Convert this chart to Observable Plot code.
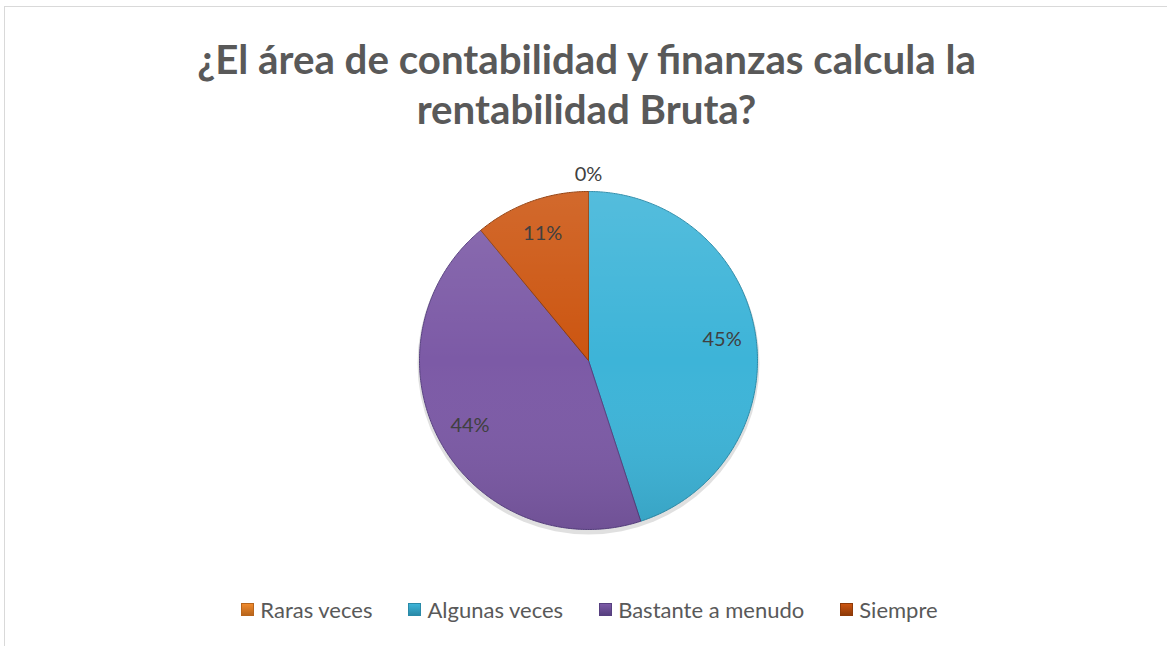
<!DOCTYPE html>
<html><head><meta charset="utf-8">
<script src="https://cdn.jsdelivr.net/npm/d3@7"></script>
<script src="https://cdn.jsdelivr.net/npm/@observablehq/plot@0.6"></script>
<style>
html,body{margin:0;padding:0;background:#fff;}
#wrap{position:relative;width:1167px;height:646px;overflow:hidden;font-family:Lato,"Open Sans",sans-serif;}
#frame{position:absolute;left:4px;top:6px;width:1300px;height:800px;border:1px solid #d9d9d9;}
#plot{position:absolute;left:0;top:0;}
.tl{position:absolute;left:3px;width:1167px;text-align:center;font-weight:bold;color:#595959;white-space:nowrap;line-height:1;}
#legend{position:absolute;left:6px;width:1167px;top:596px;display:flex;justify-content:center;gap:0;font-size:22px;color:#595959;}
.li{display:flex;align-items:center;margin:0 18px;}
.sw{width:13px;height:13px;margin-right:6px;box-sizing:border-box;}
</style></head>
<body><div id="wrap"><div id="frame"></div><div id="plot"></div>
<div class="tl" id="t1"></div><div class="tl" id="t2"></div>
<div id="legend"></div></div>
<script>
const titleLines = ["¿El área de contabilidad y finanzas calcula la", "rentabilidad Bruta?"];
const categories = ["Raras veces", "Algunas veces", "Bastante a menudo", "Siempre"];
const values = [0, 45, 44, 11];
const labels = ["0%", "45%", "44%", "11%"];
const colors = ["#f08a2c", "#3db4d8", "#7c5aa6", "#cc5510"];
const strokes = ["#b8651c", "#2a8aa8", "#574080", "#8f3a08"];

const W = 1167, H = 646, cx = 588, cy = 360, R = 169;

const pie = d3.pie().sort(null).value(d => d.value)(categories.map((c, i) => ({cat: c, value: values[i], i})));
const poly = [];
pie.forEach(a => {
  if (a.endAngle - a.startAngle <= 0) return;
  const n = Math.max(2, Math.ceil((a.endAngle - a.startAngle) / 0.01));
  poly.push({cat: a.data.cat, x: 0, y: 0});
  for (let j = 0; j <= n; j++) {
    const t = a.startAngle + (a.endAngle - a.startAngle) * j / n;
    poly.push({cat: a.data.cat, x: Math.sin(t), y: Math.cos(t)});
  }
  poly.push({cat: a.data.cat, x: 0, y: 0});
});
const lab = pie.map(a => {
  const m = (a.startAngle + a.endAngle) / 2;
  const r = a.data.value === 0 ? 1.1 : 0.8;
  return {x: r * Math.sin(m), y: r * Math.cos(m), text: labels[a.data.i]};
});

const chart = Plot.plot({
  width: W, height: H, margin: 0,
  x: {domain: [-cx / R, (W - cx) / R], range: [0, W], axis: null},
  y: {domain: [(cy - H) / R, cy / R], range: [H, 0], axis: null},
  color: {domain: categories, range: colors},
  style: {background: "transparent", fontFamily: "Lato, 'Open Sans', sans-serif"},
  marks: [
    Plot.dot([{x: 0, y: 0}], {x: "x", y: "y", r: R + 2, fill: "#000", fillOpacity: 0.12, stroke: "none", dy: 3}),
    Plot.line(poly, {x: "x", y: "y", z: "cat", fill: "cat", stroke: d => strokes[categories.indexOf(d.cat)], strokeWidth: 1, curve: "linear"}),
    Plot.dot([{x: 0, y: 0}], {x: "x", y: "y", r: R, fill: "url(#shade)", stroke: "none"}),
    Plot.text(lab, {x: "x", y: "y", text: "text", fontSize: 20, fill: "#404040"})
  ]
});
const defs = document.createElementNS("http://www.w3.org/2000/svg", "defs");
defs.innerHTML = `<linearGradient id="shade" x1="0" y1="0" x2="0" y2="1">
<stop offset="0" stop-color="#fff" stop-opacity="0.12"/>
<stop offset="0.5" stop-color="#fff" stop-opacity="0"/>
<stop offset="1" stop-color="#000" stop-opacity="0.1"/></linearGradient>`;
chart.insertBefore(defs, chart.firstChild);
document.getElementById("plot").appendChild(chart);

// title
const t1 = document.getElementById("t1"), t2 = document.getElementById("t2");
t1.textContent = titleLines[0]; t2.textContent = titleLines[1];
const meas = document.createElement("span");
meas.style.cssText = "position:absolute;visibility:hidden;font-weight:bold;white-space:nowrap;font-family:Lato,'Open Sans',sans-serif;font-size:100px";
meas.textContent = titleLines[0];
document.body.appendChild(meas);
const fs = 100 * 779 / meas.getBoundingClientRect().width;
meas.remove();
[t1, t2].forEach(t => t.style.fontSize = fs + "px");
t1.style.top = (70 - fs * 0.78) + "px";
t2.style.top = (120 - fs * 0.78) + "px";

// legend
const lg = document.getElementById("legend");
categories.forEach((c, i) => {
  const d = document.createElement("div"); d.className = "li";
  const s = document.createElement("div"); s.className = "sw";
  s.style.background = `linear-gradient(${colors[i]}, ${strokes[i]})`;
  s.style.border = `1px solid ${strokes[i]}`;
  const t = document.createElement("span"); t.textContent = c;
  d.appendChild(s); d.appendChild(t); lg.appendChild(d);
});
</script></body></html>
